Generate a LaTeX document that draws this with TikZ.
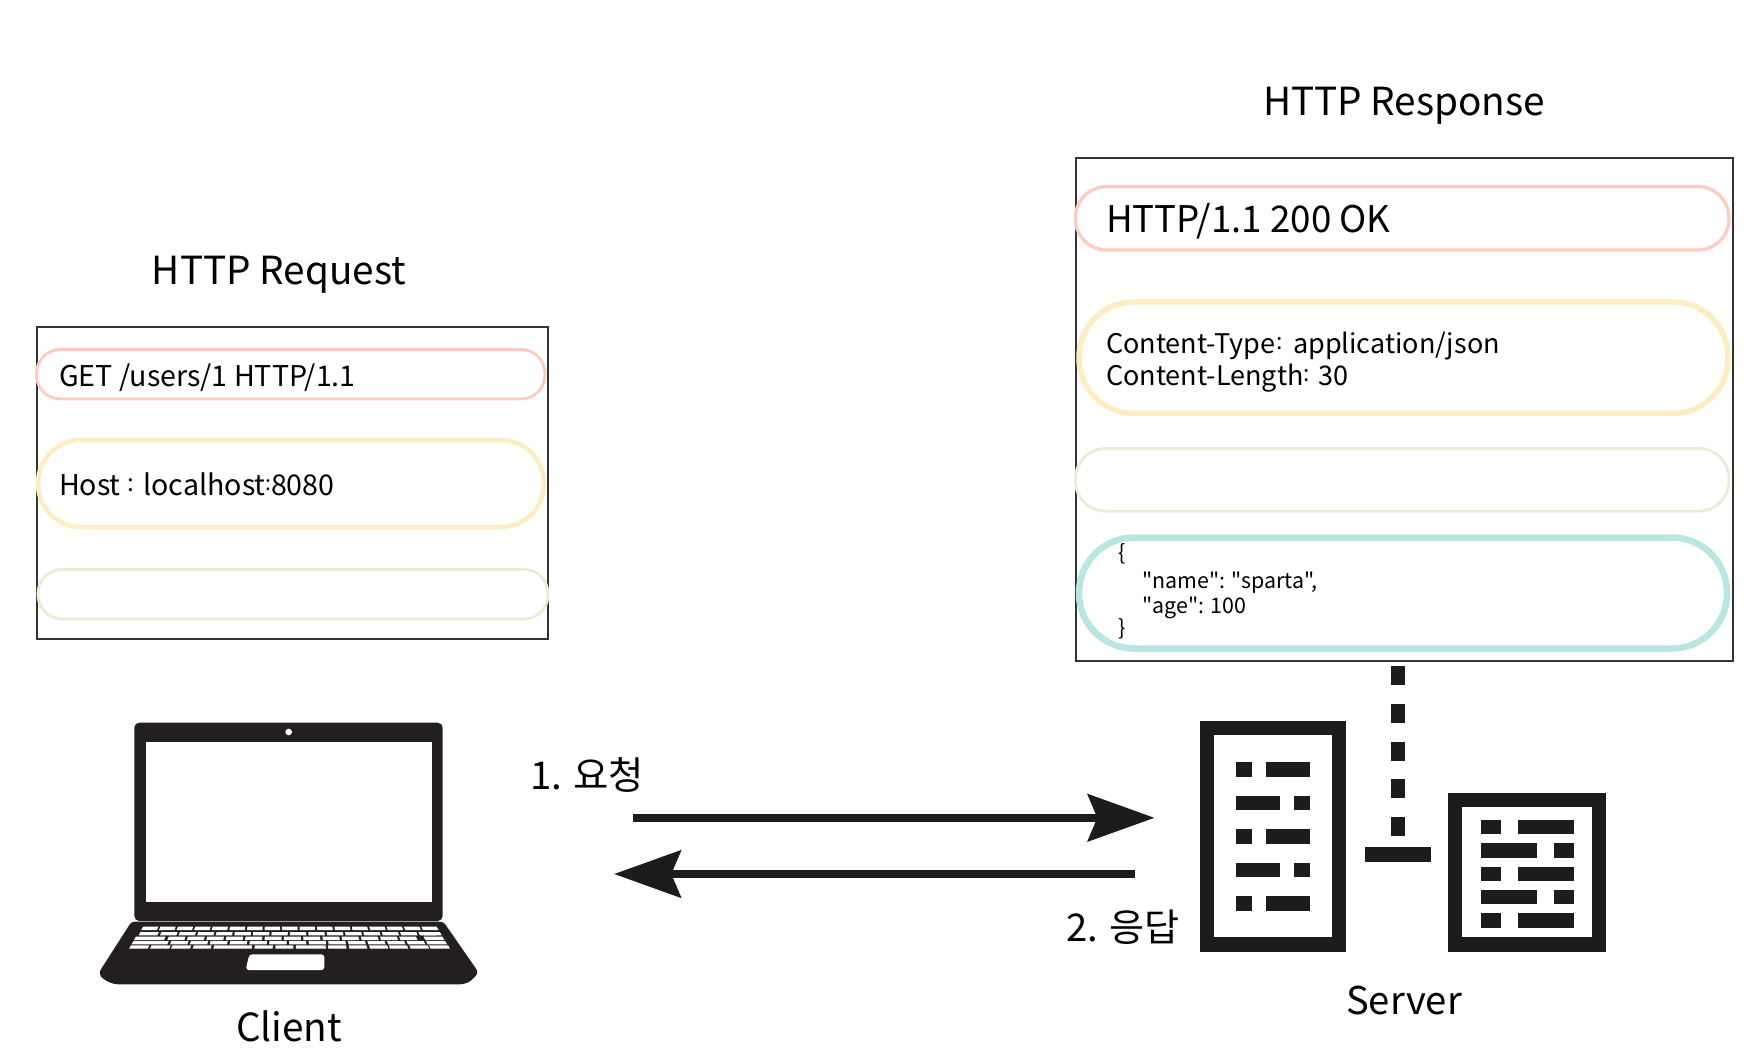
\documentclass[tikz,border=0pt]{standalone}
\usepackage{fontspec}
\setmainfont{Noto Sans CJK KR}[Ligatures=TeXOff]
\usetikzlibrary{arrows.meta}
\definecolor{ink}{HTML}{1C1C1C}
\definecolor{lap}{HTML}{231F20}
\definecolor{pk}{HTML}{FFCABF}
\definecolor{yl}{HTML}{FDEDC2}
\definecolor{gn}{HTML}{E4EFD6}
\definecolor{tl}{HTML}{B8E6E0}
\newcommand{\fs}[2]{\fontsize{#1}{#2}\selectfont}
\newcommand{\rcolon}{\kern.03em\raisebox{.13em}{\scalebox{.85}{:}}\kern.08em}
\newcommand{\ccolon}{\kern.03em\raisebox{.13em}{\scalebox{.85}{:}}\kern.16em}
\newcommand{\lcolon}{\kern.0em\raisebox{.13em}{\scalebox{.85}{:}}\kern.1em}
\newcommand{\tcolon}{\kern-.01em\raisebox{.16em}{\scalebox{.72}{:}}\kern0em}
\newcommand{\lapkey}[4]{% y top, y bottom, x0, x1 (scaled to converge upward)
  \pgfmathsetmacro{\fa}{1-0.0012*(#2-#1)}
  \fill[white] ({630+(#3-630)*\fa},#1) -- ({630+(#4-630)*\fa},#1) -- (#4,#2) -- (#3,#2) -- cycle;}
\tikzset{
  msgbox/.style={draw=black!80,line width=2.4pt,fill=white,inner sep=0pt,outer sep=0pt},
  pill/.style={draw,fill=none,inner sep=0pt,outer sep=0pt},
  txt/.style={inner sep=0pt,outer sep=0pt,anchor=base west,text=black},
  ttl/.style={inner sep=0pt,outer sep=0pt,anchor=base,text=black,font=\fs{38.7}{42}},
  flow/.style={draw=ink,line width=7.8pt},
  blk/.style={fill=ink,draw=none,inner sep=0pt,outer sep=0pt,minimum width=#1},
}
\begin{document}
\begin{tikzpicture}[x=1pt,y=-1pt]
\useasboundingbox (0,0) rectangle (1756,1058);
\fill[white] (0,0) rectangle (1756,1058);

% titles
\node[ttl] (reqtitle) at (279,284) {HTTP Request};
\node[ttl] (restitle) at (1404,115) {HTTP Response};

% request box
\node[msgbox,minimum width=511pt,minimum height=312pt] (reqbox) at (292.6,483) {};
\node[pill,draw=pk,line width=2.8pt,rounded corners=24pt,minimum width=508.5pt,minimum height=49.5pt] (reqline) at (290.7,374.2) {};
\node[pill,draw=yl,line width=4.5pt,rounded corners=43pt,minimum width=506pt,minimum height=87pt] (reqhead) at (291,483.5) {};
\node[pill,draw=gn,line width=2.8pt,rounded corners=24pt,minimum width=510pt,minimum height=49.5pt] (reqblank) at (293,594.2) {};
\node[txt,font=\fs{28.6}{32}] (reqt1) at (59,386) {GET /users/1 HTTP/1.1};
\node[txt,font=\fs{28.6}{32}] (reqt2) at (59,495) {Host \rcolon{} localhost\tcolon{}8080};

% response box
\node[msgbox,minimum width=656.5pt,minimum height=503pt] (resbox) at (1404.5,409.5) {};
\node[pill,draw=pk,line width=3.3pt,rounded corners=31pt,minimum width=653.5pt,minimum height=63.3pt] (resline) at (1402.2,218.3) {};
\node[pill,draw=yl,line width=5.5pt,rounded corners=55pt,minimum width=649pt,minimum height=111.5pt] (reshead) at (1403.5,357.7) {};
\node[pill,draw=gn,line width=2.8pt,rounded corners=30pt,minimum width=653.5pt,minimum height=62.7pt] (resblank) at (1402.2,479.8) {};
\node[pill,draw=tl,line width=6.5pt,rounded corners=55pt,minimum width=648pt,minimum height=111pt] (resbody) at (1403,593) {};
\node[txt,font=\fs{36.7}{40}] (rest1) at (1106,232.3) {HTTP/1.1 200 OK};
\node[txt,font=\fs{27}{31.7}] (rest2) at (1106,353.5) {Content-Type\ccolon{} application/json};
\node[txt,font=\fs{27}{31.7}] (rest3) at (1106,385.2) {Content-Length\lcolon{} 30};
\node[txt,font=\fs{21.4}{24}] (js1) at (1118,560.5) {\{};
\node[txt,font=\fs{21.4}{24}] (js2) at (1142.5,588.5) {"name": "sparta",};
\node[txt,font=\fs{21.4}{24}] (js3) at (1142.5,613) {"age": 100};
\node[txt,font=\fs{21.4}{24}] (js4) at (1118,635.5) {\}};

% laptop
\begin{scope}[shift={(80,700)},x=0.33333pt,y=-0.33333pt]
  \fill[lap,rounded corners=5pt] (163,68) rectangle (1088,663);
  \fill[white] (199,127) rectangle (1056,607);
  \fill[white] (626,96) circle[radius=10];
  \fill[lap] (165,665) -- (1078,665) .. controls (1085,665) and (1092,668) .. (1095,672)
    -- (1188,806) .. controls (1194,815) and (1193,822) .. (1185,830)
    .. controls (1172,845) and (1160,853) .. (1135,853)
    -- (115,853) .. controls (95,853) and (75,842) .. (63,830)
    .. controls (58,825) and (58,815) .. (64,806)
    -- (150,672) .. controls (153,668) and (158,665) .. (165,665) -- cycle;
  \fill[white,rounded corners=3pt] (508,763) -- (733,763) -- (733,810) -- (497,810) -- cycle;
  \foreach \k in {0,...,16} {
    \pgfmathsetmacro{\a}{184+52.8*\k}\pgfmathsetmacro{\b}{\a+46.5}
    \lapkey{680}{690}{\a}{\b}
  }
  \lapkey{696}{706}{176}{232}
  \foreach \k in {0,...,14} {
    \pgfmathsetmacro{\a}{240+55.7*\k}\pgfmathsetmacro{\b}{\a+49}
    \lapkey{696}{706}{\a}{\b}
  }
  \lapkey{696}{706}{1031}{1085}
  \lapkey{710}{720}{162}{252}
  \foreach \k in {0,...,12} {
    \pgfmathsetmacro{\a}{262+58.3*\k}\pgfmathsetmacro{\b}{\a+51}
    \lapkey{710}{720}{\a}{\b}
  }
  \lapkey{710}{720}{1036}{1093}
  \lapkey{723}{733}{155}{262}
  \foreach \k in {0,...,12} {
    \pgfmathsetmacro{\a}{270+59.5*\k}\pgfmathsetmacro{\b}{\a+52}
    \lapkey{723}{733}{\a}{\b}
  }
  \lapkey{723}{733}{1043}{1101}
  \foreach \a/\b in {147/203,210/268,273/330,338/392,400/515,523/578,586/640,648/738,745/800,808/862,870/925,930/985,992/1048,1052/1110} {
    \lapkey{736}{746}{\a}{\b}
  }
\end{scope}
\node[ttl] (client) at (289,1041) {Client};

% server left
\fill[ink] (1200,721) rectangle (1346,952);
\fill[white] (1214,735) rectangle (1332,937);
\foreach \y in {762.3,829.3,896.3} {
  \fill[ink] (1236,\y) rectangle (1252,\y+14.4);
  \fill[ink] (1265.7,\y) rectangle (1310,\y+14.4);
}
\foreach \y in {795.7,862.7} {
  \fill[ink] (1236,\y) rectangle (1280.3,\y+14.4);
  \fill[ink] (1294,\y) rectangle (1310,\y+14.4);
}
% server right
\fill[ink] (1448,793.3) rectangle (1606,951.7);
\fill[white] (1462.3,807.3) rectangle (1592,937.3);
\foreach \y in {820,866.7,913.3} {
  \fill[ink] (1480.7,\y) rectangle (1500.7,\y+14.4);
  \fill[ink] (1518,\y) rectangle (1574,\y+14.4);
}
\foreach \y in {843.3,890} {
  \fill[ink] (1480.7,\y) rectangle (1536.7,\y+14.4);
  \fill[ink] (1554,\y) rectangle (1574,\y+14.4);
}
\node[ttl,font=\fs{38.2}{42}] (server) at (1404,1014.3) {Server};

% link between response and servers
\node[blk=65.7pt,minimum height=14.4pt] (tbar) at (1397.7,854.5) {};
\coordinate (dtop) at (1397.8,661);
\coordinate (dbot) at (1397.8,847.3);
\draw[ink,line width=14.3pt,dash pattern=on 19pt off 18.8pt,dash phase=32.8pt] (dtop) -- (dbot);

% message arrows
\coordinate (a1s) at (633,817.8);
\coordinate (a1e) at (1154.3,817.8);
\coordinate (a2s) at (1135.3,874);
\coordinate (a2e) at (614.3,874);
\draw[flow,-{Stealth[length=67.3pt,width=48.4pt,inset=10.3pt,line width=0pt]}] (a1s) -- (a1e);
\draw[flow,-{Stealth[length=67.3pt,width=48.4pt,inset=10.3pt,line width=0pt]}] (a2s) -- (a2e);
\node[txt,font=\fs{38.4}{42}] (lab1) at (530,789) {1. 요청};
\node[txt,font=\fs{38.2}{42}] (lab2) at (1066,941.7) {2. 응답};
\end{tikzpicture}
\end{document}
